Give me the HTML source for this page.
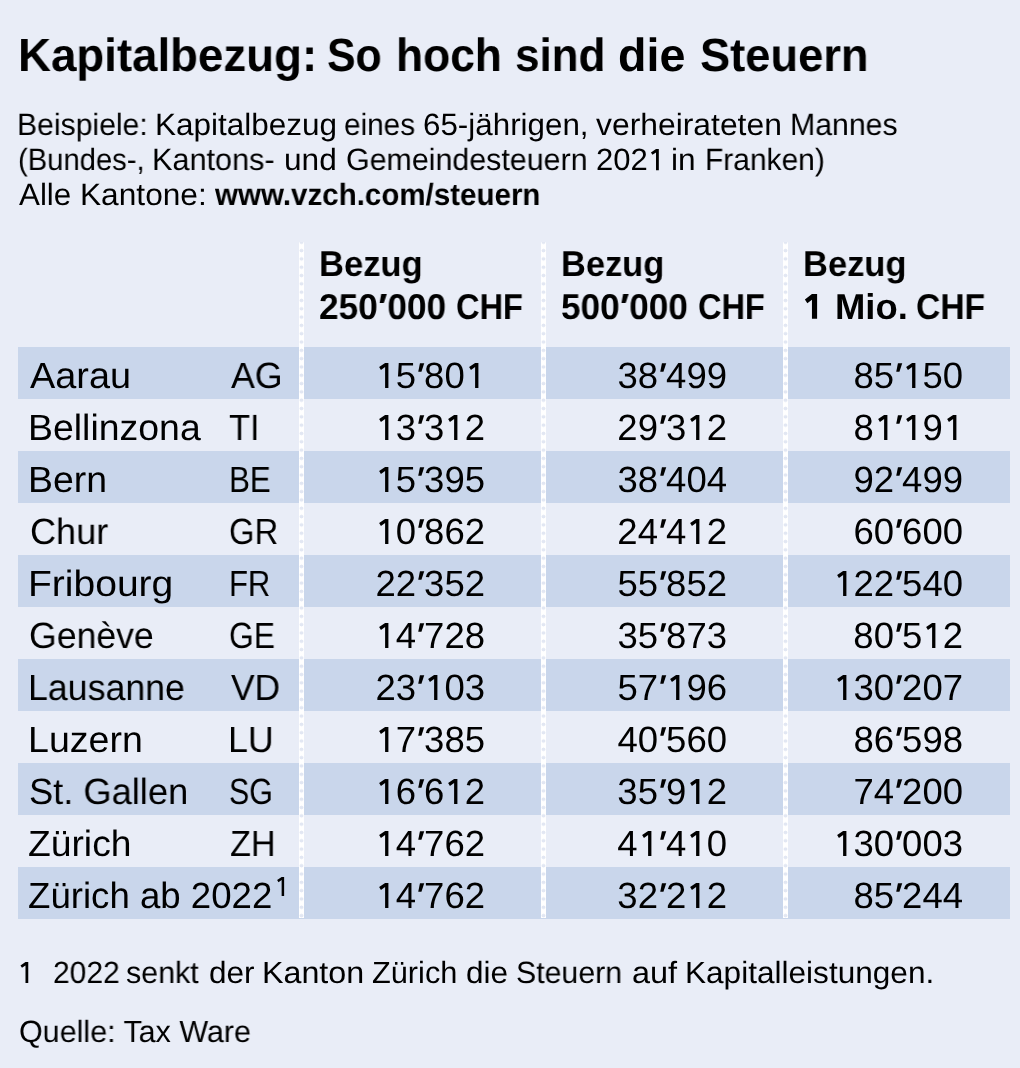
<!DOCTYPE html>
<html><head><meta charset="utf-8"><title>Kapitalbezug: So hoch sind die Steuern</title>
<style>
html,body{margin:0;padding:0;}
body{width:1020px;height:1068px;background:#e9edf7;position:relative;overflow:hidden;font-family:'Liberation Sans', sans-serif;color:#000;}
body *{text-rendering:geometricPrecision;}
.t{position:absolute;white-space:pre;line-height:1;transform-origin:0 0;will-change:transform;}
.b{position:absolute;left:18px;width:992px;height:52px;background:#c9d6eb;}
.sep{position:absolute;top:242px;height:676px;width:4.5px;background-color:#ffffff;background-image:radial-gradient(circle at 50% 50%, #e2e7f3 0, #e2e7f3 1.4px, rgba(226,231,243,0) 2.1px);background-size:4.5px 8.32px;background-position:0 -3.9px;}
.n{position:absolute;width:200px;text-align:right;white-space:pre;line-height:1;font-size:36.5px;will-change:transform;}
.g{width:0.5562em;height:0.688em;vertical-align:baseline;overflow:visible;fill:currentColor;}
</style></head><body>
<div class="b" style="top:347px"></div>
<div class="b" style="top:451px"></div>
<div class="b" style="top:555px"></div>
<div class="b" style="top:659px"></div>
<div class="b" style="top:763px"></div>
<div class="b" style="top:867px"></div>
<div class="sep" style="left:299px"></div>
<div class="sep" style="left:541px"></div>
<div class="sep" style="left:783px"></div>
<div class="t" style="left:18.14px;top:32.00px;font-size:46.6px;font-weight:700;transform:scaleX(0.9792);">Kapitalbezug:</div>
<div class="t" style="left:327.10px;top:32.00px;font-size:46.6px;font-weight:700;transform:scaleX(0.9196);">So</div>
<div class="t" style="left:395.69px;top:32.00px;font-size:46.6px;font-weight:700;transform:scaleX(0.9518);">hoch</div>
<div class="t" style="left:514.98px;top:32.00px;font-size:46.6px;font-weight:700;transform:scaleX(0.9452);">sind</div>
<div class="t" style="left:617.79px;top:32.00px;font-size:46.6px;font-weight:700;transform:scaleX(0.9958);">die</div>
<div class="t" style="left:700.08px;top:32.00px;font-size:46.6px;font-weight:700;transform:scaleX(0.9716);">Steuern</div>
<div class="t" style="left:17.02px;top:110.00px;font-size:30.8px;font-weight:400;transform:scaleX(0.9790);">Beispiele:</div>
<div class="t" style="left:154.91px;top:110.00px;font-size:30.8px;font-weight:400;transform:scaleX(1.0227);">Kapitalbezug</div>
<div class="t" style="left:344.35px;top:110.00px;font-size:30.8px;font-weight:400;transform:scaleX(0.9654);">eines</div>
<div class="t" style="left:423.36px;top:110.00px;font-size:30.8px;font-weight:400;transform:scaleX(1.0179);">65-jährigen,</div>
<div class="t" style="left:595.59px;top:110.00px;font-size:30.8px;font-weight:400;transform:scaleX(1.0340);">verheirateten</div>
<div class="t" style="left:789.51px;top:110.00px;font-size:30.8px;font-weight:400;transform:scaleX(0.9817);">Mannes</div>
<div class="t" style="left:17.66px;top:145.00px;font-size:30.8px;font-weight:400;transform:scaleX(0.9482);">(Bundes-,</div>
<div class="t" style="left:152.48px;top:145.00px;font-size:30.8px;font-weight:400;transform:scaleX(0.9951);">Kantons-</div>
<div class="t" style="left:284.13px;top:145.00px;font-size:30.8px;font-weight:400;transform:scaleX(1.0272);">und</div>
<div class="t" style="left:346.43px;top:145.00px;font-size:30.8px;font-weight:400;transform:scaleX(0.9865);">Gemeindesteuern</div>
<div class="t" style="left:595.93px;top:145.00px;font-size:30.8px;font-weight:400;transform:scaleX(1.0082);">202<svg class="g" style="width:0.5562em" viewBox="0 0 1139 1409" preserveAspectRatio="none"><path d="M567 0H752V1409H567V230L333 388L232 230Z"/></svg></div>
<div class="t" style="left:671.21px;top:145.00px;font-size:30.8px;font-weight:400;transform:scaleX(1.0272);">in</div>
<div class="t" style="left:704.53px;top:145.00px;font-size:30.8px;font-weight:400;transform:scaleX(0.9725);">Franken)</div>
<div class="t" style="left:19.21px;top:180.00px;font-size:30.8px;font-weight:400;transform:scaleX(1.0177);">Alle</div>
<div class="t" style="left:79.89px;top:180.00px;font-size:30.8px;font-weight:400;transform:scaleX(1.0280);">Kantone:</div>
<div class="t" style="left:214.89px;top:180.00px;font-size:30.8px;font-weight:700;transform:scaleX(0.9588);">www.vzch.com/steuern</div>
<div class="t" style="left:318.67px;top:247.00px;font-size:35.9px;font-weight:700;transform:scaleX(0.9628);">Bezug</div>
<div class="t" style="left:319.16px;top:290.00px;font-size:35.9px;font-weight:700;transform:scaleX(0.9799);">250<svg class="g" style="width:0.2778em" viewBox="0 0 569 1409" preserveAspectRatio="none"><path d="M200 0H526L348 509H105Z"/></svg>000</div>
<div class="t" style="left:455.73px;top:290.00px;font-size:35.9px;font-weight:700;transform:scaleX(0.9075);">CHF</div>
<div class="t" style="left:561.08px;top:247.00px;font-size:35.9px;font-weight:700;transform:scaleX(0.9589);">Bezug</div>
<div class="t" style="left:561.45px;top:290.00px;font-size:35.9px;font-weight:700;transform:scaleX(0.9777);">500<svg class="g" style="width:0.2778em" viewBox="0 0 569 1409" preserveAspectRatio="none"><path d="M200 0H526L348 509H105Z"/></svg>000</div>
<div class="t" style="left:697.84px;top:290.00px;font-size:35.9px;font-weight:700;transform:scaleX(0.9061);">CHF</div>
<div class="t" style="left:802.78px;top:247.00px;font-size:35.9px;font-weight:700;transform:scaleX(0.9609);">Bezug</div>
<div class="t" style="left:802.25px;top:290.00px;font-size:35.9px;font-weight:700;transform:scaleX(1.0144);"><svg class="g" style="width:0.5562em" viewBox="0 0 1139 1409" preserveAspectRatio="none"><path d="M560 0H850V1409H560V331L300 527L163 314Z"/></svg></div>
<div class="t" style="left:834.65px;top:290.00px;font-size:35.9px;font-weight:700;transform:scaleX(1.0144);">Mio.</div>
<div class="t" style="left:915.95px;top:290.00px;font-size:35.9px;font-weight:700;transform:scaleX(0.9364);">CHF</div>
<div class="t" style="left:30.09px;top:358.00px;font-size:36.5px;font-weight:400;transform:scaleX(1.0371);">Aarau</div>
<div class="t" style="left:230.50px;top:358.00px;font-size:36.5px;font-weight:400;transform:scaleX(0.9798);">AG</div>
<div class="t" style="left:28.42px;top:410.00px;font-size:36.5px;font-weight:400;transform:scaleX(1.0254);">Bellinzona</div>
<div class="t" style="left:229.23px;top:410.00px;font-size:36.5px;font-weight:400;transform:scaleX(0.9437);">TI</div>
<div class="t" style="left:28.42px;top:462.00px;font-size:36.5px;font-weight:400;transform:scaleX(1.0257);">Bern</div>
<div class="t" style="left:229.42px;top:462.00px;font-size:36.5px;font-weight:400;transform:scaleX(0.8585);">BE</div>
<div class="t" style="left:29.64px;top:514.00px;font-size:36.5px;font-weight:400;transform:scaleX(0.9888);">Chur</div>
<div class="t" style="left:229.34px;top:514.00px;font-size:36.5px;font-weight:400;transform:scaleX(0.8968);">GR</div>
<div class="t" style="left:27.79px;top:566.00px;font-size:36.5px;font-weight:400;transform:scaleX(1.0691);">Fribourg</div>
<div class="t" style="left:228.85px;top:566.00px;font-size:36.5px;font-weight:400;transform:scaleX(0.8492);">FR</div>
<div class="t" style="left:29.19px;top:618.00px;font-size:36.5px;font-weight:400;transform:scaleX(0.9759);">Genève</div>
<div class="t" style="left:229.39px;top:618.00px;font-size:36.5px;font-weight:400;transform:scaleX(0.8700);">GE</div>
<div class="t" style="left:28.06px;top:670.00px;font-size:36.5px;font-weight:400;transform:scaleX(0.9786);">Lausanne</div>
<div class="t" style="left:230.63px;top:670.00px;font-size:36.5px;font-weight:400;transform:scaleX(0.9705);">VD</div>
<div class="t" style="left:27.91px;top:722.00px;font-size:36.5px;font-weight:400;transform:scaleX(1.0285);">Luzern</div>
<div class="t" style="left:228.06px;top:722.00px;font-size:36.5px;font-weight:400;transform:scaleX(0.9810);">LU</div>
<div class="t" style="left:29.15px;top:774.00px;font-size:36.5px;font-weight:400;transform:scaleX(0.9933);">St. Gallen</div>
<div class="t" style="left:229.45px;top:774.00px;font-size:36.5px;font-weight:400;transform:scaleX(0.8326);">SG</div>
<div class="t" style="left:28.40px;top:826.00px;font-size:36.5px;font-weight:400;transform:scaleX(1.0202);">Zürich</div>
<div class="t" style="left:229.70px;top:826.00px;font-size:36.5px;font-weight:400;transform:scaleX(0.9381);">ZH</div>
<div class="t" style="left:28.42px;top:878.00px;font-size:36.5px;font-weight:400;transform:scaleX(1.0036);">Zürich ab 2022</div>
<div class="t" style="left:273.77px;top:872.80px;font-size:27.6px;font-weight:400;"><svg class="g" style="width:0.5562em" viewBox="0 0 1139 1409" preserveAspectRatio="none"><path d="M567 0H752V1409H567V230L333 388L232 230Z"/></svg></div>
<div class="t" style="left:17.27px;top:958.00px;font-size:30.7px;font-weight:400;"><svg class="g" style="width:0.5562em" viewBox="0 0 1139 1409" preserveAspectRatio="none"><path d="M567 0H752V1409H567V230L333 388L232 230Z"/></svg></div>
<div class="t" style="left:52.98px;top:958.00px;font-size:30.7px;font-weight:400;transform:scaleX(0.9768);">2022</div>
<div class="t" style="left:126.34px;top:958.00px;font-size:30.7px;font-weight:400;transform:scaleX(0.9913);">senkt</div>
<div class="t" style="left:208.61px;top:958.00px;font-size:30.7px;font-weight:400;transform:scaleX(1.0272);">der</div>
<div class="t" style="left:262.35px;top:958.00px;font-size:30.7px;font-weight:400;transform:scaleX(1.0506);">Kanton</div>
<div class="t" style="left:371.53px;top:958.00px;font-size:30.7px;font-weight:400;transform:scaleX(1.0017);">Zürich</div>
<div class="t" style="left:465.62px;top:958.00px;font-size:30.7px;font-weight:400;transform:scaleX(1.0261);">die</div>
<div class="t" style="left:515.91px;top:958.00px;font-size:30.7px;font-weight:400;transform:scaleX(0.9861);">Steuern</div>
<div class="t" style="left:632.00px;top:958.00px;font-size:30.7px;font-weight:400;transform:scaleX(1.0582);">auf</div>
<div class="t" style="left:684.90px;top:958.00px;font-size:30.7px;font-weight:400;transform:scaleX(1.0288);">Kapitalleistungen.</div>
<div class="t" style="left:18.51px;top:1017.00px;font-size:30.7px;font-weight:400;transform:scaleX(0.9930);">Quelle: Tax Ware</div>
<div class="n" style="left:284.68px;top:358.00px"><svg class="g" style="width:0.5562em" viewBox="0 0 1139 1409" preserveAspectRatio="none"><path d="M567 0H752V1409H567V230L333 388L232 230Z"/></svg>5<svg class="g" style="width:0.2222em" viewBox="0 0 455 1409" preserveAspectRatio="none"><path d="M221 12H462L305 494H126Z"/></svg>80<svg class="g" style="width:0.5562em" viewBox="0 0 1139 1409" preserveAspectRatio="none"><path d="M567 0H752V1409H567V230L333 388L232 230Z"/></svg></div>
<div class="n" style="left:526.78px;top:358.00px">38<svg class="g" style="width:0.2222em" viewBox="0 0 455 1409" preserveAspectRatio="none"><path d="M221 12H462L305 494H126Z"/></svg>499</div>
<div class="n" style="left:762.78px;top:358.00px">85<svg class="g" style="width:0.2222em" viewBox="0 0 455 1409" preserveAspectRatio="none"><path d="M221 12H462L305 494H126Z"/></svg><svg class="g" style="width:0.5562em" viewBox="0 0 1139 1409" preserveAspectRatio="none"><path d="M567 0H752V1409H567V230L333 388L232 230Z"/></svg>50</div>
<div class="n" style="left:284.68px;top:410.00px"><svg class="g" style="width:0.5562em" viewBox="0 0 1139 1409" preserveAspectRatio="none"><path d="M567 0H752V1409H567V230L333 388L232 230Z"/></svg>3<svg class="g" style="width:0.2222em" viewBox="0 0 455 1409" preserveAspectRatio="none"><path d="M221 12H462L305 494H126Z"/></svg>3<svg class="g" style="width:0.5562em" viewBox="0 0 1139 1409" preserveAspectRatio="none"><path d="M567 0H752V1409H567V230L333 388L232 230Z"/></svg>2</div>
<div class="n" style="left:526.78px;top:410.00px">29<svg class="g" style="width:0.2222em" viewBox="0 0 455 1409" preserveAspectRatio="none"><path d="M221 12H462L305 494H126Z"/></svg>3<svg class="g" style="width:0.5562em" viewBox="0 0 1139 1409" preserveAspectRatio="none"><path d="M567 0H752V1409H567V230L333 388L232 230Z"/></svg>2</div>
<div class="n" style="left:762.78px;top:410.00px">8<svg class="g" style="width:0.5562em" viewBox="0 0 1139 1409" preserveAspectRatio="none"><path d="M567 0H752V1409H567V230L333 388L232 230Z"/></svg><svg class="g" style="width:0.2222em" viewBox="0 0 455 1409" preserveAspectRatio="none"><path d="M221 12H462L305 494H126Z"/></svg><svg class="g" style="width:0.5562em" viewBox="0 0 1139 1409" preserveAspectRatio="none"><path d="M567 0H752V1409H567V230L333 388L232 230Z"/></svg>9<svg class="g" style="width:0.5562em" viewBox="0 0 1139 1409" preserveAspectRatio="none"><path d="M567 0H752V1409H567V230L333 388L232 230Z"/></svg></div>
<div class="n" style="left:284.68px;top:462.00px"><svg class="g" style="width:0.5562em" viewBox="0 0 1139 1409" preserveAspectRatio="none"><path d="M567 0H752V1409H567V230L333 388L232 230Z"/></svg>5<svg class="g" style="width:0.2222em" viewBox="0 0 455 1409" preserveAspectRatio="none"><path d="M221 12H462L305 494H126Z"/></svg>395</div>
<div class="n" style="left:526.78px;top:462.00px">38<svg class="g" style="width:0.2222em" viewBox="0 0 455 1409" preserveAspectRatio="none"><path d="M221 12H462L305 494H126Z"/></svg>404</div>
<div class="n" style="left:762.78px;top:462.00px">92<svg class="g" style="width:0.2222em" viewBox="0 0 455 1409" preserveAspectRatio="none"><path d="M221 12H462L305 494H126Z"/></svg>499</div>
<div class="n" style="left:284.68px;top:514.00px"><svg class="g" style="width:0.5562em" viewBox="0 0 1139 1409" preserveAspectRatio="none"><path d="M567 0H752V1409H567V230L333 388L232 230Z"/></svg>0<svg class="g" style="width:0.2222em" viewBox="0 0 455 1409" preserveAspectRatio="none"><path d="M221 12H462L305 494H126Z"/></svg>862</div>
<div class="n" style="left:526.78px;top:514.00px">24<svg class="g" style="width:0.2222em" viewBox="0 0 455 1409" preserveAspectRatio="none"><path d="M221 12H462L305 494H126Z"/></svg>4<svg class="g" style="width:0.5562em" viewBox="0 0 1139 1409" preserveAspectRatio="none"><path d="M567 0H752V1409H567V230L333 388L232 230Z"/></svg>2</div>
<div class="n" style="left:762.78px;top:514.00px">60<svg class="g" style="width:0.2222em" viewBox="0 0 455 1409" preserveAspectRatio="none"><path d="M221 12H462L305 494H126Z"/></svg>600</div>
<div class="n" style="left:284.68px;top:566.00px">22<svg class="g" style="width:0.2222em" viewBox="0 0 455 1409" preserveAspectRatio="none"><path d="M221 12H462L305 494H126Z"/></svg>352</div>
<div class="n" style="left:526.78px;top:566.00px">55<svg class="g" style="width:0.2222em" viewBox="0 0 455 1409" preserveAspectRatio="none"><path d="M221 12H462L305 494H126Z"/></svg>852</div>
<div class="n" style="left:762.78px;top:566.00px"><svg class="g" style="width:0.5562em" viewBox="0 0 1139 1409" preserveAspectRatio="none"><path d="M567 0H752V1409H567V230L333 388L232 230Z"/></svg>22<svg class="g" style="width:0.2222em" viewBox="0 0 455 1409" preserveAspectRatio="none"><path d="M221 12H462L305 494H126Z"/></svg>540</div>
<div class="n" style="left:284.68px;top:618.00px"><svg class="g" style="width:0.5562em" viewBox="0 0 1139 1409" preserveAspectRatio="none"><path d="M567 0H752V1409H567V230L333 388L232 230Z"/></svg>4<svg class="g" style="width:0.2222em" viewBox="0 0 455 1409" preserveAspectRatio="none"><path d="M221 12H462L305 494H126Z"/></svg>728</div>
<div class="n" style="left:526.78px;top:618.00px">35<svg class="g" style="width:0.2222em" viewBox="0 0 455 1409" preserveAspectRatio="none"><path d="M221 12H462L305 494H126Z"/></svg>873</div>
<div class="n" style="left:762.78px;top:618.00px">80<svg class="g" style="width:0.2222em" viewBox="0 0 455 1409" preserveAspectRatio="none"><path d="M221 12H462L305 494H126Z"/></svg>5<svg class="g" style="width:0.5562em" viewBox="0 0 1139 1409" preserveAspectRatio="none"><path d="M567 0H752V1409H567V230L333 388L232 230Z"/></svg>2</div>
<div class="n" style="left:284.68px;top:670.00px">23<svg class="g" style="width:0.2222em" viewBox="0 0 455 1409" preserveAspectRatio="none"><path d="M221 12H462L305 494H126Z"/></svg><svg class="g" style="width:0.5562em" viewBox="0 0 1139 1409" preserveAspectRatio="none"><path d="M567 0H752V1409H567V230L333 388L232 230Z"/></svg>03</div>
<div class="n" style="left:526.78px;top:670.00px">57<svg class="g" style="width:0.2222em" viewBox="0 0 455 1409" preserveAspectRatio="none"><path d="M221 12H462L305 494H126Z"/></svg><svg class="g" style="width:0.5562em" viewBox="0 0 1139 1409" preserveAspectRatio="none"><path d="M567 0H752V1409H567V230L333 388L232 230Z"/></svg>96</div>
<div class="n" style="left:762.78px;top:670.00px"><svg class="g" style="width:0.5562em" viewBox="0 0 1139 1409" preserveAspectRatio="none"><path d="M567 0H752V1409H567V230L333 388L232 230Z"/></svg>30<svg class="g" style="width:0.2222em" viewBox="0 0 455 1409" preserveAspectRatio="none"><path d="M221 12H462L305 494H126Z"/></svg>207</div>
<div class="n" style="left:284.68px;top:722.00px"><svg class="g" style="width:0.5562em" viewBox="0 0 1139 1409" preserveAspectRatio="none"><path d="M567 0H752V1409H567V230L333 388L232 230Z"/></svg>7<svg class="g" style="width:0.2222em" viewBox="0 0 455 1409" preserveAspectRatio="none"><path d="M221 12H462L305 494H126Z"/></svg>385</div>
<div class="n" style="left:526.78px;top:722.00px">40<svg class="g" style="width:0.2222em" viewBox="0 0 455 1409" preserveAspectRatio="none"><path d="M221 12H462L305 494H126Z"/></svg>560</div>
<div class="n" style="left:762.78px;top:722.00px">86<svg class="g" style="width:0.2222em" viewBox="0 0 455 1409" preserveAspectRatio="none"><path d="M221 12H462L305 494H126Z"/></svg>598</div>
<div class="n" style="left:284.68px;top:774.00px"><svg class="g" style="width:0.5562em" viewBox="0 0 1139 1409" preserveAspectRatio="none"><path d="M567 0H752V1409H567V230L333 388L232 230Z"/></svg>6<svg class="g" style="width:0.2222em" viewBox="0 0 455 1409" preserveAspectRatio="none"><path d="M221 12H462L305 494H126Z"/></svg>6<svg class="g" style="width:0.5562em" viewBox="0 0 1139 1409" preserveAspectRatio="none"><path d="M567 0H752V1409H567V230L333 388L232 230Z"/></svg>2</div>
<div class="n" style="left:526.78px;top:774.00px">35<svg class="g" style="width:0.2222em" viewBox="0 0 455 1409" preserveAspectRatio="none"><path d="M221 12H462L305 494H126Z"/></svg>9<svg class="g" style="width:0.5562em" viewBox="0 0 1139 1409" preserveAspectRatio="none"><path d="M567 0H752V1409H567V230L333 388L232 230Z"/></svg>2</div>
<div class="n" style="left:762.78px;top:774.00px">74<svg class="g" style="width:0.2222em" viewBox="0 0 455 1409" preserveAspectRatio="none"><path d="M221 12H462L305 494H126Z"/></svg>200</div>
<div class="n" style="left:284.68px;top:826.00px"><svg class="g" style="width:0.5562em" viewBox="0 0 1139 1409" preserveAspectRatio="none"><path d="M567 0H752V1409H567V230L333 388L232 230Z"/></svg>4<svg class="g" style="width:0.2222em" viewBox="0 0 455 1409" preserveAspectRatio="none"><path d="M221 12H462L305 494H126Z"/></svg>762</div>
<div class="n" style="left:526.78px;top:826.00px">4<svg class="g" style="width:0.5562em" viewBox="0 0 1139 1409" preserveAspectRatio="none"><path d="M567 0H752V1409H567V230L333 388L232 230Z"/></svg><svg class="g" style="width:0.2222em" viewBox="0 0 455 1409" preserveAspectRatio="none"><path d="M221 12H462L305 494H126Z"/></svg>4<svg class="g" style="width:0.5562em" viewBox="0 0 1139 1409" preserveAspectRatio="none"><path d="M567 0H752V1409H567V230L333 388L232 230Z"/></svg>0</div>
<div class="n" style="left:762.78px;top:826.00px"><svg class="g" style="width:0.5562em" viewBox="0 0 1139 1409" preserveAspectRatio="none"><path d="M567 0H752V1409H567V230L333 388L232 230Z"/></svg>30<svg class="g" style="width:0.2222em" viewBox="0 0 455 1409" preserveAspectRatio="none"><path d="M221 12H462L305 494H126Z"/></svg>003</div>
<div class="n" style="left:284.68px;top:878.00px"><svg class="g" style="width:0.5562em" viewBox="0 0 1139 1409" preserveAspectRatio="none"><path d="M567 0H752V1409H567V230L333 388L232 230Z"/></svg>4<svg class="g" style="width:0.2222em" viewBox="0 0 455 1409" preserveAspectRatio="none"><path d="M221 12H462L305 494H126Z"/></svg>762</div>
<div class="n" style="left:526.78px;top:878.00px">32<svg class="g" style="width:0.2222em" viewBox="0 0 455 1409" preserveAspectRatio="none"><path d="M221 12H462L305 494H126Z"/></svg>2<svg class="g" style="width:0.5562em" viewBox="0 0 1139 1409" preserveAspectRatio="none"><path d="M567 0H752V1409H567V230L333 388L232 230Z"/></svg>2</div>
<div class="n" style="left:762.78px;top:878.00px">85<svg class="g" style="width:0.2222em" viewBox="0 0 455 1409" preserveAspectRatio="none"><path d="M221 12H462L305 494H126Z"/></svg>244</div>
</body></html>
